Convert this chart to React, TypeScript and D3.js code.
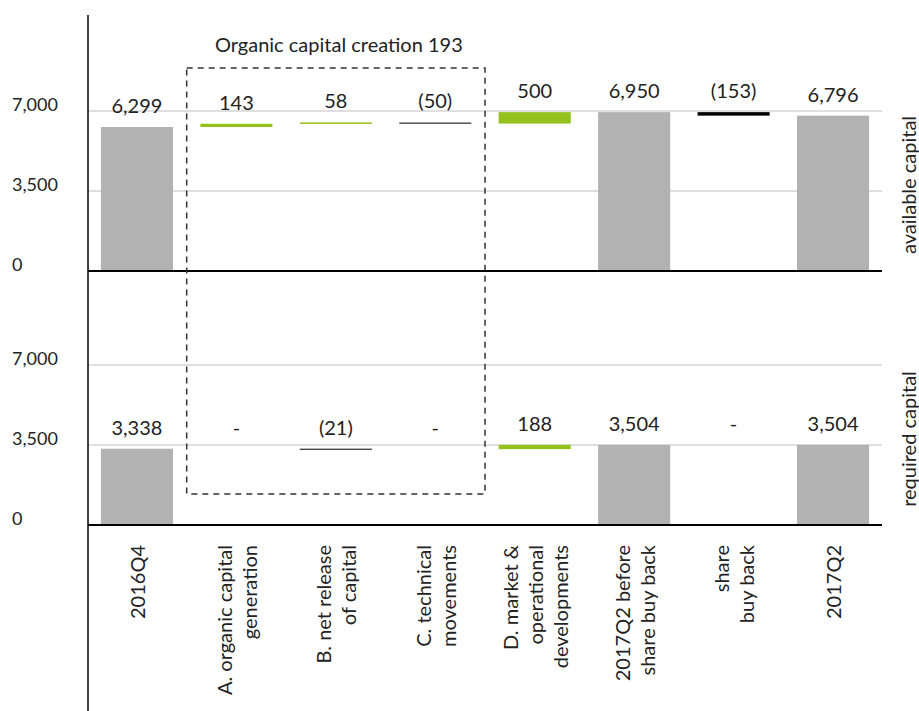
import * as d3 from "d3";

const categories = ["2016Q4", "A", "B", "C", "D", "2017Q2pre", "buyback", "2017Q2"];
const categoryLines = [
  ["2016Q4"],
  ["A. organic capital", "generation"],
  ["B. net release", "of capital"],
  ["C. technical", "movements"],
  ["D. market &", "operational", "developments"],
  ["2017Q2 before", "share buy back"],
  ["share", "buy back"],
  ["2017Q2"],
];
const barKinds = ["total", "delta", "delta", "delta", "delta", "total", "delta", "total"];

const availableValues = [6299, 143, 58, -50, 500, 6950, -153, 6796];
const availableLabels = ["6,299", "143", "58", "(50)", "500", "6,950", "(153)", "6,796"];
const requiredValues = [3338, 0, -21, 0, 188, 3504, 0, 3504];
const requiredLabels = ["3,338", "-", "(21)", "-", "188", "3,504", "-", "3,504"];

const yTicks = [0, 3500, 7000];
const yTickLabels = ["0", "3,500", "7,000"];
const boxedCategories = ["A", "B", "C"];
const boxTitle = "Organic capital creation 193";

const GREY = "#b2b2b2";
const GREEN = "#95c11f";
const availableColors = [GREY, GREEN, GREEN, "#555555", GREEN, GREY, "#000000", GREY];
const requiredColors = [GREY, GREEN, "#000000", GREEN, GREEN, GREY, "#000000", GREY];
const availableThin = [false, false, true, true, false, false, false, false];

const FONT = "Lato, 'Noto Sans', sans-serif";
const TEXT = "#222222";
const LABEL_SIZE = 20;

const W = 919;
const H = 711;
const plotLeft = 88;
const plotRight = 882;

const x = d3.scaleBand<string>().domain(categories).range([plotLeft, plotRight]).paddingInner(0.275).paddingOuter(0.13);

type Seg = { cat: string; start: number; end: number; label: string; color: string; thin: boolean };

function waterfall(values: number[], labels: string[], colors: string[], thin: boolean[]): Seg[] {
  let running = 0;
  return values.map((v, i) => {
    let start: number;
    let end: number;
    if (barKinds[i] === "total") {
      start = 0;
      end = v;
    } else {
      start = running;
      end = running + v;
    }
    running = end;
    return { cat: categories[i], start, end, label: labels[i], color: colors[i], thin: thin[i] };
  });
}

function Panel({
  segs,
  y,
  side,
}: {
  segs: Seg[];
  y: d3.ScaleLinear<number, number>;
  side: string;
}) {
  const [r0, r1] = y.range();
  return (
    <g>
      {yTicks.slice(1).map((t) => (
        <line key={t} x1={plotLeft} x2={plotRight} y1={y(t)} y2={y(t)} stroke="#d4d4d4" strokeWidth={1.5} />
      ))}
      {yTicks.map((t, i) => (
        <text key={"l" + t} x={12} y={y(t)} fontSize={18} fill={TEXT} fontFamily={FONT}>
          {yTickLabels[i]}
        </text>
      ))}
      {segs.map((s) => {
        const top = Math.min(y(s.start), y(s.end));
        const bottom = Math.max(y(s.start), y(s.end));
        const h = s.thin ? 1.5 : Math.max(bottom - top, 1);
        const hasBar = s.start !== s.end;
        const cx = (x(s.cat) ?? 0) + x.bandwidth() / 2;
        return (
          <g key={s.cat}>
            {hasBar && (
              <rect x={x(s.cat)} y={top} width={x.bandwidth()} height={h} fill={s.color} />
            )}
            <text x={cx} y={top - 14} textAnchor="middle" fontSize={LABEL_SIZE} fill={TEXT} fontFamily={FONT}>
              {s.label}
            </text>
          </g>
        );
      })}
      <line x1={plotLeft} x2={plotRight} y1={y(0)} y2={y(0)} stroke="#000" strokeWidth={2.2} />
      <text
        transform={`translate(916,${(r0 + r1) / 2 - 6}) rotate(-90)`}
        textAnchor="middle"
        fontSize={LABEL_SIZE}
        fill={TEXT}
        fontFamily={FONT}
      >
        {side}
      </text>
    </g>
  );
}

export default function App() {
  const yTop = d3.scaleLinear().domain([0, 7000]).range([271, 111]);
  const yBottom = d3.scaleLinear().domain([0, 7000]).range([525, 365]);

  const avail = waterfall(availableValues, availableLabels, availableColors, availableThin);
  const req = waterfall(requiredValues, requiredLabels, requiredColors, categories.map(() => false));

  const step = x.step();
  const gap = step - x.bandwidth();
  const boxLeft = (x(boxedCategories[0]) ?? 0) - gap / 2;
  const boxRight = (x(boxedCategories[boxedCategories.length - 1]) ?? 0) + x.bandwidth() + gap / 2;
  const boxTop = 68;
  const boxBottom = 494;

  return (
    <svg width={W} height={H} style={{ position: "absolute", left: 0, top: 0 }}>
      <rect width={W} height={H} fill="#fff" />
      <Panel segs={avail} y={yTop} side="available capital" />
      <Panel segs={req} y={yBottom} side="required capital" />
      <line x1={plotLeft} x2={plotLeft} y1={15} y2={H} stroke="#000" strokeWidth={1.5} />
      <rect
        x={boxLeft}
        y={boxTop}
        width={boxRight - boxLeft}
        height={boxBottom - boxTop}
        fill="none"
        stroke="#333"
        strokeWidth={1.5}
        strokeDasharray="6,5"
      />
      <text x={(boxLeft + boxRight) / 2 + 3} y={52} textAnchor="middle" fontSize={LABEL_SIZE} fill={TEXT} fontFamily={FONT}>
        {boxTitle}
      </text>
      {categories.map((c, i) => {
        const lines = categoryLines[i];
        const cx = (x(c) ?? 0) + x.bandwidth() / 2;
        return lines.map((ln, j) => (
          <text
            key={c + j}
            transform={`translate(${cx + (j - (lines.length - 1) / 2) * 25 + 8},545) rotate(-90)`}
            textAnchor="end"
            fontSize={LABEL_SIZE}
            fill={TEXT}
            fontFamily={FONT}
          >
            {ln}
          </text>
        ));
      })}
    </svg>
  );
}
